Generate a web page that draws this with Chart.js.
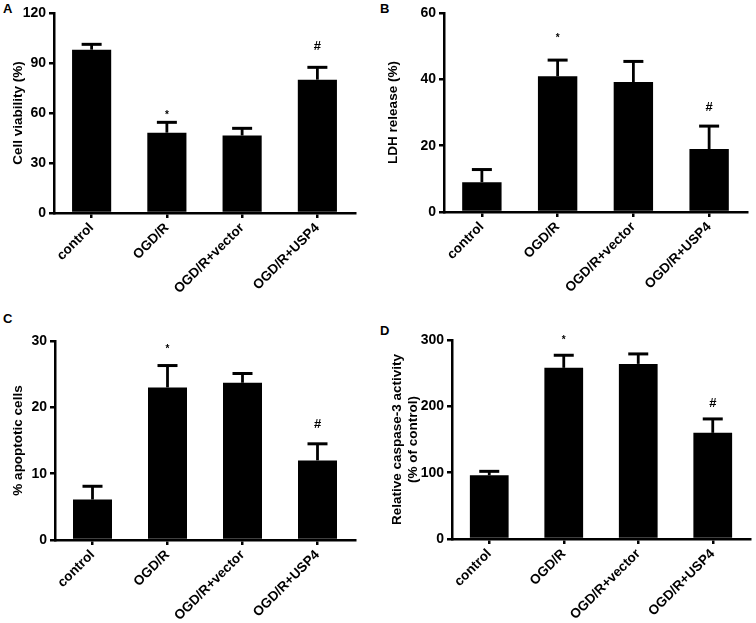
<!DOCTYPE html>
<html>
<head>
<meta charset="utf-8">
<script src="https://cdn.jsdelivr.net/npm/chart.js@4.4.1/dist/chart.umd.min.js"></script>
<style>
  html, body { margin: 0; padding: 0; background: #fff; }
  body { width: 756px; height: 623px; position: relative; overflow: hidden; font-family: 'Liberation Sans', Arial, sans-serif; }
  .panel { position: absolute; }
  .letter { position: absolute; font-weight: bold; font-size: 13px; line-height: 13px; color: #000; }
</style>
</head>
<body>
<div class="letter" style="left:3px;top:2px">A</div>
<div class="letter" style="left:380px;top:2px">B</div>
<div class="letter" style="left:3px;top:312px">C</div>
<div class="letter" style="left:380px;top:324px">D</div>

<div class="panel" style="left:0;top:0;width:378px;height:320px"><canvas id="chartA"></canvas></div>
<div class="panel" style="left:378px;top:0;width:378px;height:320px"><canvas id="chartB"></canvas></div>
<div class="panel" style="left:0;top:320px;width:378px;height:303px"><canvas id="chartC"></canvas></div>
<div class="panel" style="left:378px;top:320px;width:378px;height:303px"><canvas id="chartD"></canvas></div>

<script>
const groups = ['control', 'OGD/R', 'OGD/R+vector', 'OGD/R+USP4'];
const marks = ['', '*', '', '#'];

// A: cell viability
const viability = [98, 48.2, 46.5, 80];
const viabilityErr = [3.2, 6.2, 4.3, 7.4];
const viabilityMarkAt = [null, 58.5, null, 100];

// B: LDH release
const ldh = [9.0, 40.9, 39.2, 19.0];
const ldhErr = [3.8, 4.9, 6.2, 6.9];
const ldhMarkAt = [null, 52.3, null, 31.5];

// C: apoptosis
const apoptotic = [6.1, 23.0, 23.7, 12.0];
const apoptoticErr = [2.0, 3.3, 1.4, 2.5];
const apoptoticMarkAt = [null, 28.8, null, 17.4];

// D: caspase-3
const caspase = [96, 258, 264, 160];
const caspaseErr = [6, 19, 15, 21];
const caspaseMarkAt = [null, 300, null, 204.7];

Chart.defaults.font.family = "'Liberation Sans', Arial, sans-serif";
Chart.defaults.color = '#000';

// upward-only error bars plus * / # marks
const errorBars = {
  id: 'errorBars',
  afterDatasetsDraw(chart, args, opts) {
    const ctx = chart.ctx;
    const y = chart.scales.y;
    const meta = chart.getDatasetMeta(0);
    ctx.save();
    ctx.strokeStyle = '#000';
    ctx.fillStyle = '#000';
    meta.data.forEach((bar, i) => {
      const top = y.getPixelForValue(opts.values[i] + opts.errors[i]);
      ctx.lineWidth = 2.8;
      ctx.beginPath();
      ctx.moveTo(bar.x, bar.y);
      ctx.lineTo(bar.x, top);
      ctx.stroke();
      ctx.lineWidth = 3;
      ctx.beginPath();
      ctx.moveTo(bar.x - 10, top);
      ctx.lineTo(bar.x + 10, top);
      ctx.stroke();
      if (opts.marks[i]) {
        ctx.font = (opts.marks[i] === '*' ? 'bold 10px ' : 'bold 13px ') + Chart.defaults.font.family;
        ctx.textAlign = 'center';
        ctx.textBaseline = 'middle';
        ctx.fillText(opts.marks[i], bar.x, y.getPixelForValue(opts.markAt[i]));
      }
    });
    ctx.restore();
  }
};

function makePanel(id, values, errors, markAt, yMax, yStep, title, box) {
  new Chart(document.getElementById(id), {
    type: 'bar',
    data: {
      labels: groups,
      datasets: [{
        data: values,
        backgroundColor: '#000',
        borderWidth: 0,
        barPercentage: 0.52,
        categoryPercentage: 1
      }]
    },
    options: {
      animation: false,
      responsive: true,
      maintainAspectRatio: false,
      layout: { padding: box.padding },
      plugins: {
        legend: { display: false },
        tooltip: { enabled: false },
        errorBars: { values, errors, marks, markAt }
      },
      scales: {
        x: {
          offset: true,
          grid: { offset: false, drawOnChartArea: false, drawTicks: true, tickLength: 5, color: '#000', lineWidth: 2.5 },
          border: { color: '#000', width: 2.5 },
          ticks: { autoSkip: false, minRotation: 45, maxRotation: 45, padding: 2, font: { size: 13.5, weight: 'bold' } },
          afterFit(scale) { scale.height = box.xHeight; }
        },
        y: {
          min: 0,
          max: yMax,
          grid: { drawOnChartArea: false, drawTicks: true, tickLength: 5, color: '#000', lineWidth: 2.5 },
          border: { color: '#000', width: 2.5 },
          ticks: { stepSize: yStep, padding: 3, font: { size: 14, weight: 'bold' } },
          title: { display: true, text: title, font: { size: 13.5, weight: 'bold' }, padding: { top: box.titlePad, bottom: 0 } },
          afterFit(scale) { scale.width = box.yWidth; }
        }
      }
    },
    plugins: [errorBars]
  });
}

makePanel('chartA', viability, viabilityErr, viabilityMarkAt, 120, 30, 'Cell viability (%)',
  { padding: { left: 0, top: 13, right: 23, bottom: 0 }, yWidth: 54, xHeight: 107, titlePad: 10 });
makePanel('chartB', ldh, ldhErr, ldhMarkAt, 60, 20, 'LDH release (%)',
  { padding: { left: 0, top: 13, right: 9, bottom: 0 }, yWidth: 66, xHeight: 108, titlePad: 7 });
makePanel('chartC', apoptotic, apoptoticErr, apoptoticMarkAt, 30, 10, '% apoptotic cells',
  { padding: { left: 0, top: 21, right: 23, bottom: 0 }, yWidth: 55, xHeight: 83, titlePad: 10 });
makePanel('chartD', caspase, caspaseErr, caspaseMarkAt, 300, 100, ['Relative caspase-3 activity', '(% of control)'],
  { padding: { left: 0, top: 20, right: 6, bottom: 0 }, yWidth: 74, xHeight: 84, titlePad: 11 });
</script>
</body>
</html>
